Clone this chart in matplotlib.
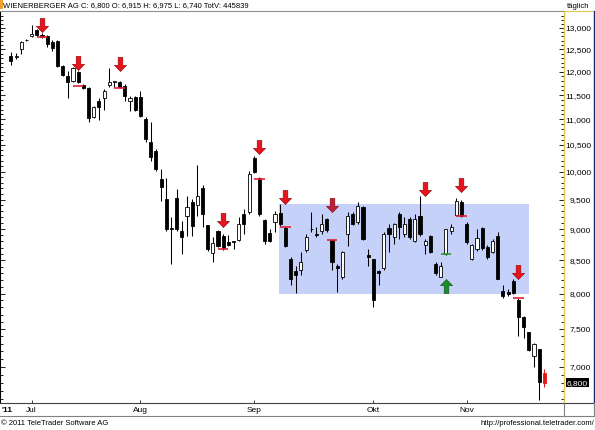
import matplotlib
matplotlib.use("Agg")
import matplotlib.pyplot as plt
from matplotlib.path import Path
from matplotlib.patches import Rectangle
from matplotlib.lines import Line2D
from matplotlib.ticker import FixedLocator, NullFormatter
from matplotlib.transforms import offset_copy

# daily OHLC, Wienerberger AG, end of June to late November 2011
opens = [12.34, 12.32, 12.50, 12.71, 12.81, 12.95, 12.84, 12.81, 12.67, 12.70,
         12.12, 11.90, 11.79, 11.99, 11.71, 11.66, 11.04, 11.37, 11.43, 11.71,
         11.77, 11.77, 11.70, 11.37, 11.45, 11.45, 11.00, 10.55, 10.38, 9.86,
         9.51, 9.02, 9.53, 8.97, 9.22, 9.46, 9.41, 9.70, 9.07, 8.61,
         8.97, 8.89, 8.79, 8.80, 8.82, 9.25, 9.29, 10.25, 9.88, 9.15,
         8.94, 9.12, 9.27, 9.02, 8.52, 8.33, 8.36, 8.66, 9.00, 8.92,
         8.97, 9.17, 8.82, 8.42, 8.25, 8.92, 9.25, 9.12, 9.37, 8.58,
         8.52, 8.33, 8.39, 9.02, 8.87, 9.25, 8.92, 9.17, 8.81, 9.22,
         8.74, 8.89, 8.44, 8.25, 8.60, 8.97, 9.24, 9.46, 9.09, 8.53,
         8.68, 9.02, 8.71, 8.63, 8.89, 8.04, 8.03, 8.18, 7.91, 7.67,
         7.46, 7.14, 7.23, 6.915]
highs = [12.44, 12.41, 12.70, 12.74, 13.07, 12.98, 12.88, 12.84, 12.72, 12.72,
         12.14, 12.01, 12.10, 12.01, 11.73, 11.68, 11.28, 11.43, 11.62, 12.08,
         11.81, 11.81, 11.73, 11.47, 11.47, 11.58, 11.04, 10.94, 10.42, 10.05,
         9.88, 9.20, 9.68, 9.14, 9.56, 9.51, 10.12, 9.75, 9.07, 8.87,
         8.99, 8.92, 8.90, 8.81, 9.20, 9.34, 10.01, 10.29, 9.90, 9.17,
         9.00, 9.30, 9.42, 9.04, 8.55, 8.41, 8.63, 8.92, 9.29, 9.04,
         9.25, 9.18, 8.82, 8.44, 8.65, 9.29, 9.29, 9.46, 9.39, 8.68,
         8.52, 8.36, 8.95, 9.09, 9.10, 9.29, 9.20, 9.20, 9.25, 9.56,
         8.84, 8.90, 8.47, 8.47, 9.00, 9.09, 9.53, 9.49, 9.12, 8.76,
         9.00, 9.04, 8.74, 8.84, 8.95, 8.13, 8.07, 8.21, 7.94, 7.68,
         7.46, 7.31, 7.23, 6.975]
lows = [12.15, 12.28, 12.39, 12.69, 12.79, 12.81, 12.76, 12.55, 12.46, 12.10,
        11.90, 11.43, 11.77, 11.75, 11.62, 10.94, 11.02, 10.98, 11.20, 11.68,
        11.68, 11.66, 11.37, 11.16, 11.16, 11.04, 10.55, 10.19, 10.01, 9.47,
        8.97, 8.44, 8.97, 8.60, 8.89, 8.89, 9.22, 9.04, 8.65, 8.47,
        8.71, 8.66, 8.72, 8.68, 8.81, 8.92, 9.25, 9.97, 9.22, 8.76,
        8.79, 8.95, 9.05, 8.71, 8.13, 8.01, 8.27, 8.63, 8.95, 8.87,
        8.92, 8.95, 8.36, 8.03, 8.21, 8.72, 9.07, 9.09, 8.82, 8.42,
        7.80, 8.13, 8.36, 8.63, 8.76, 8.84, 8.87, 8.84, 8.79, 8.89,
        8.60, 8.61, 8.27, 8.24, 8.58, 8.92, 9.22, 9.20, 8.76, 8.50,
        8.65, 8.66, 8.53, 8.61, 8.21, 7.94, 7.96, 7.99, 7.40, 7.37,
        7.20, 7.00, 6.59, 6.74]
closes = [12.23, 12.36, 12.67, 12.72, 12.86, 12.83, 12.79, 12.62, 12.53, 12.12,
          11.94, 11.77, 12.08, 11.77, 11.66, 11.02, 11.26, 11.26, 11.58, 11.77,
          11.79, 11.68, 11.47, 11.43, 11.20, 11.06, 10.61, 10.27, 10.05, 9.72,
          9.00, 9.01, 9.00, 8.87, 9.37, 9.05, 9.56, 9.25, 8.68, 8.77,
          8.72, 8.69, 8.74, 8.79, 9.09, 9.09, 9.96, 9.99, 9.25, 8.81,
          8.81, 9.25, 9.09, 8.72, 8.22, 8.27, 8.48, 8.87, 9.01, 8.90,
          9.09, 8.99, 8.47, 8.39, 8.63, 9.22, 9.09, 9.39, 8.84, 8.55,
          7.91, 8.31, 8.92, 8.92, 9.09, 9.04, 9.09, 8.87, 9.17, 8.92,
          8.81, 8.63, 8.31, 8.42, 9.00, 9.04, 9.47, 9.22, 8.79, 8.74,
          8.86, 8.69, 8.56, 8.81, 8.22, 7.97, 8.00, 8.01, 7.67, 7.53,
          7.22, 7.30, 6.81, 6.80]

# sell signals: candle index, arrow tip price, level of the short red line
sell_idx = [6, 13, 21, 41, 48, 53, 62, 80, 87, 98]
sell_tip = [12.90, 12.05, 12.01, 9.04, 10.32, 9.42, 9.29, 9.56, 9.63, 8.22]
sell_line = [12.79, 11.70, 11.64, 8.68, 9.86, 9.04, 8.82, None, 9.22, 7.93]
# buy signal
buy_idx = [84]
buy_tip = [8.21]
buy_line = [8.60]

# trading range box: from/to candle index, upper/lower price
box_from, box_to = 51.8, 100.0
box_top, box_bottom = 9.42, 8.00

month_idx = [4, 25, 47, 70, 88]
month_names = ["Jul", "Aug", "Sep", "Okt", "Nov"]
price_ticks = [7.0, 7.5, 8.0, 8.5, 9.0, 9.5, 10.0, 10.5, 11.0, 11.5, 12.0, 12.5, 13.0]
last_price = 6.80

W, H = 595, 431
FONT = "Liberation Sans"
FS = 6.0
FS_TITLE = 5.5


def fx(px):
    return px / W


def fy(py):
    return 1 - py / H


def fig_line(x0, y0, x1, y1, color, lw=0.8, ls="-"):
    fig.add_artist(Line2D([fx(x0), fx(x1)], [fy(y0), fy(y1)],
                          transform=fig.transFigure, color=color, lw=lw, ls=ls))


fig = plt.figure(figsize=(W / 100, H / 100), dpi=100)
ax = fig.add_axes([0, fy(404), fx(564), (404 - 12) / H])

ax.set_yscale("log")
ax.set_xlim(-2.1, 106.8)
ax.set_ylim(6.55, 13.41)

# range box
ax.add_patch(Rectangle((box_from, box_bottom), box_to - box_from, box_top - box_bottom,
                       facecolor="#c6d1fa", edgecolor="none", zorder=1))

# candles
for i in range(len(opens)):
    o, h, l, c = opens[i], highs[i], lows[i], closes[i]
    last = i == len(opens) - 1
    edge = "#e01818" if last else "black"
    if last:
        face = "#e01818"
    else:
        face = "black" if c < o else "white"
    ax.vlines(i, l, h, color=edge, lw=0.75, zorder=2)
    ax.bar(i, max(abs(c - o), 0.004), bottom=min(o, c), width=0.6,
           facecolor=face, edgecolor=edge, linewidth=0.6, zorder=3)

# arrow markers (px units, centred)
down_verts = [(-2.3, 7), (2.3, 7), (2.3, -0.8), (6, -0.8), (0, -7),
              (-6, -0.8), (-2.3, -0.8), (-2.3, 7)]
codes = [Path.MOVETO] + [Path.LINETO] * 6 + [Path.CLOSEPOLY]
down_arrow = Path(down_verts, codes)
up_arrow = Path([(x, -y) for x, y in down_verts], codes)

sell_tr = offset_copy(ax.transData, fig=fig, y=7 * 0.72, units="points")
buy_tr = offset_copy(ax.transData, fig=fig, y=-7 * 0.72, units="points")

for i, tip, lvl in zip(sell_idx, sell_tip, sell_line):
    col = "#b8203c" if i == 62 else "#e8141c"
    ax.plot(i, tip, marker=down_arrow, markersize=10.2, color=col,
            markeredgecolor="#8a0000", mew=0.4, transform=sell_tr, zorder=6,
            clip_on=False)
    if lvl is not None:
        ax.hlines(lvl, i - 1, i + 1, color="#e4203a", lw=1.2, zorder=5)

for i, tip, lvl in zip(buy_idx, buy_tip, buy_line):
    ax.plot(i, tip, marker=up_arrow, markersize=10.2, color="#1e8c2a",
            markeredgecolor="#0a5014", mew=0.4, transform=buy_tr, zorder=6)
    ax.hlines(lvl, i - 1, i + 1, color="#2a9a30", lw=1.2, zorder=5)

# axes styling
for s in ["top", "bottom", "left"]:
    ax.spines[s].set_linewidth(0.8)
ax.spines["top"].set_color("#808080")
ax.spines["bottom"].set_color("#404040")
ax.spines["left"].set_color("black")
ax.spines["right"].set_color("#e0c850")
ax.spines["right"].set_linestyle((0, (1, 1)))
ax.spines["right"].set_linewidth(1.0)

ax.yaxis.set_major_locator(FixedLocator(price_ticks))
minor = [round(6.6 + 0.1 * k, 1) for k in range(69)]
ax.yaxis.set_minor_locator(FixedLocator(minor))
ax.yaxis.set_major_formatter(NullFormatter())
ax.yaxis.set_minor_formatter(NullFormatter())
ax.tick_params(axis="y", which="both", left=True, right=True, direction="in",
               length=2.5, width=0.7, color="#202020")
ax.tick_params(axis="y", which="major", length=3.5)

ax.set_xticks(month_idx)
ax.set_xticklabels(month_names, fontsize=FS, family=FONT)
ax.tick_params(axis="x", direction="in", length=2.5, width=0.7, pad=2.1,
               color="#404040")

# price labels on the right
for v in price_ticks:
    ax.text(591 / 564, v, f"{v:.3f}".replace(".", ","), transform=ax.get_yaxis_transform(),
            ha="right", va="center", fontsize=FS, family=FONT, clip_on=False)
ax.text(588 / 564, last_price, f"{last_price:.3f}".replace(".", ","),
        transform=ax.get_yaxis_transform(), ha="right", va="center", fontsize=FS,
        family=FONT, color="white", clip_on=False,
        bbox=dict(boxstyle="square,pad=0.12", facecolor="black", edgecolor="none"))

# frame around the chart window
fig_line(0, 12, 595, 12, "#909090", lw=0.7)
fig_line(564, 12, 593, 12, "#e0c850", lw=0.8)
fig_line(593.5, 12, 593.5, 404, "#1a2a6a", lw=1.0)
fig_line(564, 404, 593.5, 404, "#404040", lw=0.8)
fig_line(0, 416.5, 593.5, 416.5, "#808080", lw=0.8)
fig_line(564, 404, 564, 416.5, "#808080", lw=0.8)
fig_line(593.5, 404, 593.5, 416.5, "#808080", lw=0.8)

fig.add_artist(Rectangle((0, fy(10)), fx(2.5), 10 / H, transform=fig.transFigure,
                         facecolor="#f0a030", edgecolor="none"))

fig.text(fx(3), fy(6), "WIENERBERGER AG C: 6,800 O: 6,915 H: 6,975 L: 6,740 TotV: 445839",
         ha="left", va="center", fontsize=FS_TITLE, family=FONT)
fig.text(fx(578), fy(6), "täglich", ha="center", va="center", fontsize=FS_TITLE, family=FONT)
fig.text(fx(1), fy(411), "'11", ha="left", va="center", fontsize=FS, family=FONT,
         weight="bold")
fig.text(fx(1), fy(424), "© 2011 TeleTrader Software AG", ha="left", va="center",
         fontsize=FS_TITLE, family=FONT)
fig.text(fx(594), fy(424), "http://professional.teletrader.com/", ha="right",
         va="center", fontsize=FS_TITLE, family=FONT)

fig.savefig("out.png", dpi=100)
